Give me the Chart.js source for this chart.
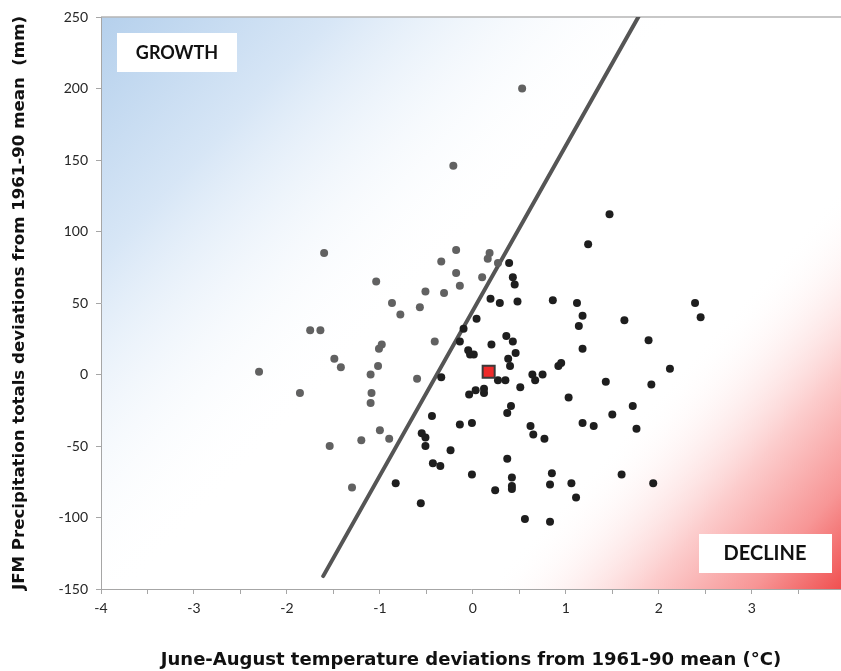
<!DOCTYPE html>
<html>
<head>
<meta charset="utf-8">
<script src="https://cdn.jsdelivr.net/npm/chart.js@4/dist/chart.umd.min.js"></script>
<style>
  html, body { margin: 0; padding: 0; overflow: hidden; background: #fff; }
  #grafico { display: block; }
</style>
</head>
<body>
<canvas id="grafico" width="841" height="671"></canvas>
<script>
// ====== DADOS ======
// anos "growth" (cinza)
const grayX = [-1.60, -1.04, -0.18, -0.34, -0.18, -0.14, -0.51, -0.31, -0.87, -0.57, -0.78, -1.75, -1.64, -0.98, -1.01, -0.41, -1.49, -1.42, -1.02, -2.30, -1.10, -0.60, -1.86, -1.09, -1.10, -1.00, -1.20, -0.90, -1.54, -1.30, 0.18, 0.16, 0.27, 0.10, 0.53, -0.21];
const grayY = [85, 65, 87, 79, 71, 62, 58, 57, 50, 47, 42, 31, 31, 21, 18, 23, 11, 5, 6, 2, 0, -3, -13, -13, -20, -39, -46, -45, -50, -79, 85, 81, 78, 68, 200, 146];

// anos "decline" (preto)
const blackX = [1.47, 1.24, 0.39, 0.43, 0.45, 0.19, 0.29, 0.48, 0.86, 1.12, 1.18, 1.14, 1.63, 0.04, -0.10, -0.14, 0.36, 0.43, 0.20, -0.05, -0.03, 0.01, 0.46, 1.18, 0.38, 0.40, 0.92, 0.95, 0.64, 0.67, 0.75, 0.27, 0.35, -0.34, 0.51, 1.43, 1.03, -0.04, 0.03, 0.12, 0.12, 0.41, 0.37, -0.44, 1.50, 2.39, 2.45, 1.89, 2.12, 1.92, 1.72, -0.55, -0.51, -0.51, -0.14, -0.01, -0.24, -0.43, -0.35, -0.01, -0.83, -0.56, 0.62, 0.65, 0.77, 1.18, 1.30, 1.76, 0.37, 0.42, 0.42, 0.42, 0.24, 0.85, 0.83, 1.06, 1.11, 1.60, 1.94, 0.56, 0.83];
const blackY = [112, 91, 78, 68, 63, 53, 50, 51, 52, 50, 41, 34, 38, 39, 32, 23, 27, 23, 21, 17, 14, 14, 15, 18, 11, 6, 6, 8, 0, -4, 0, -4, -4, -2, -9, -5, -16, -14, -11, -10, -13, -22, -27, -29, -28, 50, 40, 24, 4, -7, -22, -41, -44, -50, -35, -34, -53, -62, -64, -70, -76, -90, -36, -42, -45, -34, -36, -38, -59, -72, -78, -80, -81, -69, -77, -76, -86, -70, -76, -101, -103];

// ano destacado (quadrado vermelho)
const markerX = [0.17];
const markerY = [2];

// linha divisória
const lineX = [-1.61, 1.78];
const lineY = [-141, 250];

// eixos (o gráfico original é cortado um pouco antes de 4)
const xMin = -4, xMax = 3.96, xStep = 0.5;
const yMin = -150, yMax = 250, yStep = 50;

const pares = (xs, ys) => xs.map((x, i) => ({ x, y: ys[i] }));

// ====== FUNDO (gradientes + caixas) ======
const fundo = {
  id: 'fundo',
  beforeDraw(chart) {
    const { ctx, chartArea: a } = chart;
    const w = a.right - a.left, h = a.bottom - a.top;
    ctx.save();
    ctx.fillStyle = '#fff';
    ctx.fillRect(a.left, a.top, w, h);

    // azul no canto superior esquerdo
    const gAzul = ctx.createLinearGradient(a.left, a.top, a.left + 0.41 * w, a.top + 0.51 * h);
    gAzul.addColorStop(0, 'rgba(181,208,236,1)');
    gAzul.addColorStop(0.4, 'rgba(215,230,246,1)');
    gAzul.addColorStop(1, 'rgba(255,255,255,0)');
    ctx.fillStyle = gAzul;
    ctx.fillRect(a.left, a.top, w, h);

    // vermelho no canto inferior direito
    const gVerm = ctx.createLinearGradient(a.right, a.bottom, a.right - 0.27 * w, a.bottom - 0.31 * h);
    gVerm.addColorStop(0, 'rgba(240,80,80,1)');
    gVerm.addColorStop(0.25, 'rgba(247,150,150,1)');
    gVerm.addColorStop(0.55, 'rgba(252,205,205,1)');
    gVerm.addColorStop(1, 'rgba(255,255,255,0)');
    ctx.fillStyle = gVerm;
    ctx.fillRect(a.left, a.top, w, h);

    // borda superior
    ctx.strokeStyle = '#b4b4b4';
    ctx.lineWidth = 1.5;
    ctx.beginPath();
    ctx.moveTo(a.left, a.top);
    ctx.lineTo(a.right, a.top);
    ctx.stroke();

    // caixas de texto
    ctx.fillStyle = '#fff';
    ctx.fillRect(a.left + 16, a.top + 16, 120, 39);
    ctx.fillRect(a.left + 598, a.bottom - 55, 133, 39);
    ctx.fillStyle = '#111';
    ctx.textAlign = 'center';
    ctx.textBaseline = 'middle';
    ctx.font = 'bold 18px Lato';
    ctx.fillText('GROWTH', a.left + 76, a.top + 36);
    ctx.font = 'bold 20px Lato';
    ctx.fillText('DECLINE', a.left + 664, a.bottom - 35);
    ctx.restore();
  }
};

// ====== GRÁFICO ======
const ctx = document.getElementById('grafico').getContext('2d');
const corEixo = '#a6a6a6';

new Chart(ctx, {
  type: 'scatter',
  data: {
    datasets: [
      {
        data: pares(markerX, markerY),
        pointStyle: 'rect', pointRadius: 8.5,
        backgroundColor: '#ee2a2a', borderColor: '#3a3a3a', borderWidth: 2,
        order: 0
      },
      {
        data: pares(blackX, blackY),
        pointRadius: 4, backgroundColor: '#1e1e1e', borderColor: '#1e1e1e', borderWidth: 0,
        order: 1
      },
      {
        data: pares(grayX, grayY),
        pointRadius: 4, backgroundColor: '#616161', borderColor: '#616161', borderWidth: 0,
        order: 1
      },
      {
        data: pares(lineX, lineY),
        showLine: true, pointRadius: 0,
        borderColor: '#555', borderWidth: 4, borderCapStyle: 'round',
        order: 2
      }
    ]
  },
  options: {
    responsive: false,
    animation: false,
    layout: { autoPadding: false, padding: { top: 17, right: 0, left: 0, bottom: 0 } },
    plugins: { legend: { display: false }, tooltip: { enabled: false } },
    scales: {
      x: {
        type: 'linear', min: xMin, max: xMax,
        afterFit: s => { s.height = 82; s.paddingRight = 0; },
        ticks: {
          stepSize: xStep, padding: 6, color: '#262626', includeBounds: false,
          font: { family: 'Lato', size: 14 },
          callback: v => Number.isInteger(v) ? v : ''
        },
        grid: { drawOnChartArea: false, tickLength: 5, color: corEixo },
        border: { color: corEixo, width: 1 },
        title: {
          display: true, color: '#111',
          text: 'June-August temperature deviations from 1961-90 mean (°C)',
          font: { family: 'DejaVu Sans', size: 18, weight: 'bold' },
          padding: { top: 0, bottom: 0 }
        }
      },
      y: {
        type: 'linear', min: yMin, max: yMax,
        afterFit: s => { s.width = 101; },
        ticks: {
          stepSize: yStep, padding: 8, color: '#262626',
          font: { family: 'Lato', size: 14 }
        },
        grid: { drawOnChartArea: false, tickLength: 5, color: corEixo },
        border: { color: corEixo, width: 1 },
        title: {
          display: true, color: '#111',
          text: 'JFM Precipitation totals deviations from 1961-90 mean  (mm)',
          font: { family: 'DejaVu Sans', size: 16.6, weight: 'bold' },
          padding: { top: 10, bottom: 0 }
        }
      }
    }
  },
  plugins: [fundo]
});
</script>
</body>
</html>
